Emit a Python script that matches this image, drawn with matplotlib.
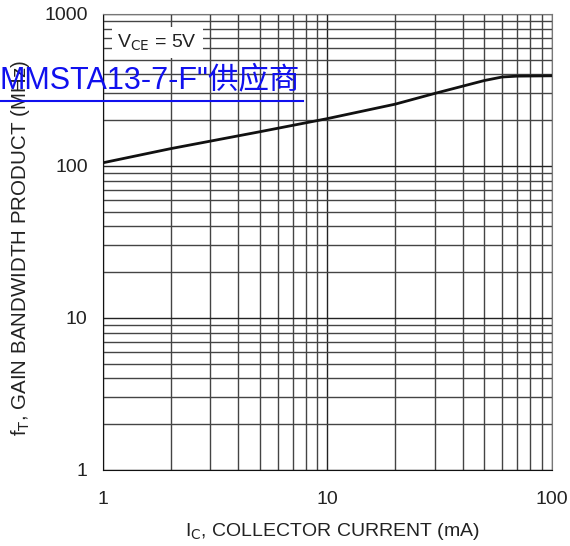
import matplotlib
matplotlib.use("Agg")
import matplotlib.pyplot as plt
import numpy as np
from matplotlib.ticker import FixedLocator, NullFormatter, FixedFormatter

ic_ma = [1, 2, 5, 10, 20, 30, 50, 60, 70, 100]
ft_mhz = [105, 130, 168, 205, 255, 300, 365, 385, 390, 392]
x_ticks = [1, 10, 100]
x_labels = ["1", "10", "100"]
y_ticks = [1, 10, 100, 1000]
y_labels = ["1", "10", "100", "1000"]

plt.rcParams['font.family'] = ['Liberation Sans', 'DejaVu Sans']

fig = plt.figure(figsize=(5.7, 5.46), dpi=100)
ax = fig.add_axes([0.1807, 0.1392, 0.7877, 0.8352])
ax.set_xscale('log')
ax.set_yscale('log')
ax.set_xlim(1, 100)
ax.set_ylim(1, 1000)

minor_x = [m * 10 ** k for k in range(0, 2) for m in range(2, 10)]
minor_y = [m * 10 ** k for k in range(0, 3) for m in range(2, 10)]
ax.xaxis.set_major_locator(FixedLocator(x_ticks))
ax.xaxis.set_major_formatter(FixedFormatter(x_labels))
ax.yaxis.set_major_locator(FixedLocator(y_ticks))
ax.yaxis.set_major_formatter(FixedFormatter(y_labels))
ax.xaxis.set_minor_locator(FixedLocator(minor_x))
ax.yaxis.set_minor_locator(FixedLocator(minor_y))
ax.xaxis.set_minor_formatter(NullFormatter())
ax.yaxis.set_minor_formatter(NullFormatter())
ax.grid(True, which='major', color='#222222', linewidth=1.0)
ax.grid(True, which='minor', color='#444444', linewidth=1.0)
ax.tick_params(which='both', length=0, labelsize=14, colors='#222222')
ax.tick_params(axis='y', pad=11)
ax.tick_params(axis='x', pad=15)
for s in ['left', 'bottom']:
    ax.spines[s].set_color('#111111')
for s in ['top', 'right']:
    ax.spines[s].set_color('#777777')

ax.plot(ic_ma, ft_mhz, color='#111111', linewidth=2.0, zorder=5)

ax.text(1.16, 650, r"V$_{\mathrm{CE}}$ = 5V", fontsize=14, color='#222222',
        va='center', ha='left',
        bbox=dict(facecolor='white', edgecolor='none', pad=4), zorder=6)

ax.set_xlabel(r"I$_{\mathrm{C}}$, COLLECTOR CURRENT (mA)", fontsize=14, color='#222222')
ax.xaxis.set_label_coords((332 - 103) / 449, (470 - 521) / 456)
ax.xaxis.label.set_va('top')
ax.set_ylabel(r"f$_{\mathrm{T}}$, GAIN BANDWIDTH PRODUCT (MHz)", fontsize=14.8, color='#222222')
ax.yaxis.set_label_coords((20 - 103) / 449, (470 - 248) / 456)
ax.yaxis.label.set_va('center')

fig.text(0.0, 1 - 80 / 546, 'MMSTA13-7-F"供应商', fontsize=22, color='#1010ee',
         family=['Liberation Sans', 'Noto Sans CJK SC'], va='center', ha='left', zorder=10)
fig.add_artist(plt.Line2D([0.0, 303 / 570], [1 - 101 / 546, 1 - 101 / 546],
                          color='#1010ee', linewidth=1.5, transform=fig.transFigure))

fig.savefig("out.png", dpi=100)
